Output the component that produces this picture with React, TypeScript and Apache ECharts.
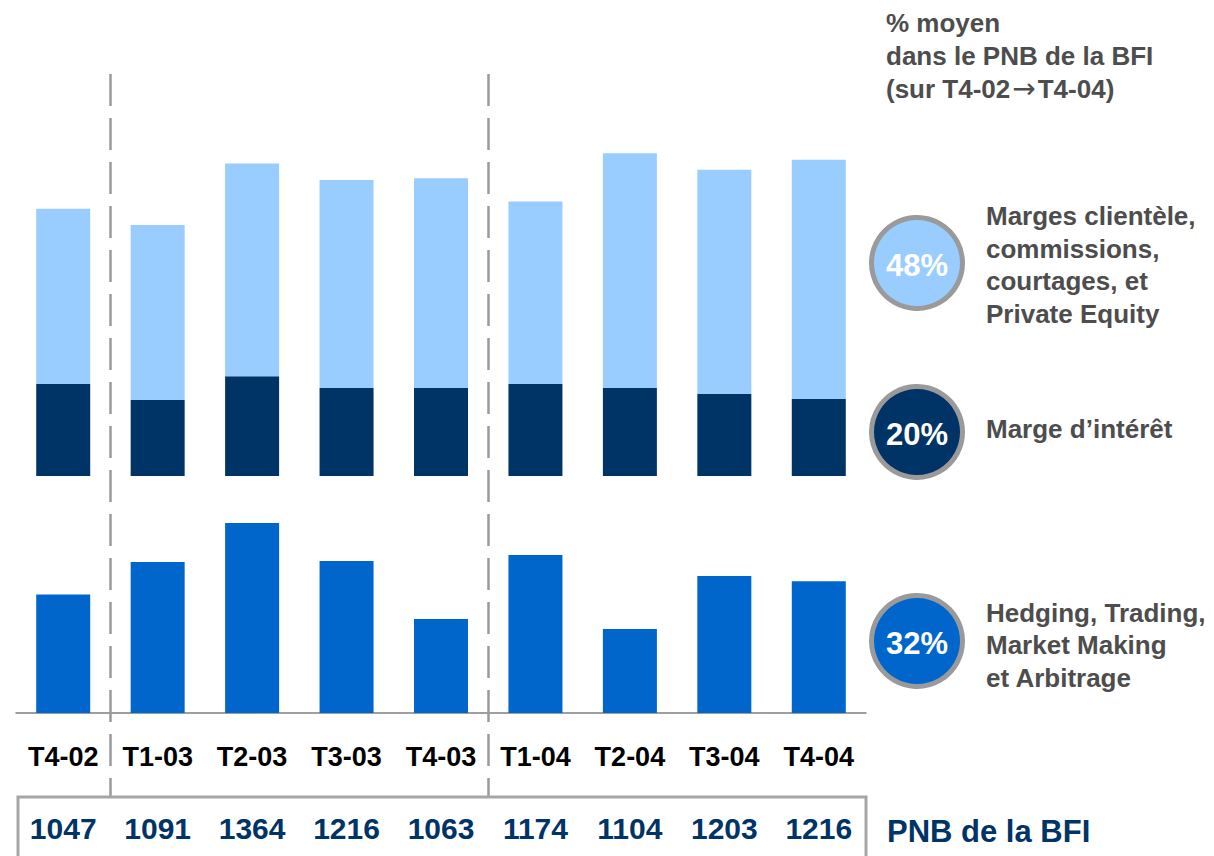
import React, { useEffect, useRef } from "react";
import * as echarts from "echarts";

const categories = ["T4-02", "T1-03", "T2-03", "T3-03", "T4-03", "T1-04", "T2-04", "T3-04", "T4-04"];
const margeInteret = [250, 206, 271, 239, 239, 250, 239, 223, 209];
const margesClientele = [475, 475, 577, 564, 569, 495, 637, 608, 649];
const hedgingTrading = [322, 410, 516, 413, 255, 429, 228, 372, 358];
const pnbBFI = [1047, 1091, 1364, 1216, 1063, 1174, 1104, 1203, 1216];

const shareLabels = ["48%", "20%", "32%"];
const shareNames = [
  "Marges clientèle,\ncommissions,\ncourtages, et\nPrivate Equity",
  "Marge d\u2019intérêt",
  "Hedging, Trading,\nMarket Making\net Arbitrage",
];
const titleLines = "{t|% moyen}\n{t|dans le PNB de la BFI}\n{t|(sur T4-02}{a|\u2192}{t|T4-04)}";
const pnbTitle = "PNB de la BFI";

const FONT = "'Liberation Sans', Arial, Helvetica, sans-serif";
const LIGHT = "#99ccff";
const NAVY = "#003366";
const MID = "#0066cc";
const GRAY_TXT = "#4d4d4d";

export default function App() {
  const ref = useRef<HTMLDivElement>(null);
  useEffect(() => {
    if (!ref.current) return;
    const chart = echarts.init(ref.current, null, { renderer: "svg" });
    const circleColors = [LIGHT, NAVY, MID];
    const circleY = [263, 432, 641];
    const labelY = [265, 429, 645];

    const graphics: any[] = [];
    [110.5, 488.5].forEach((x) => {
      graphics.push({
        type: "line",
        shape: { x1: x, y1: 74, x2: x, y2: 797 },
        style: { stroke: "#9a9a9a", lineWidth: 2.5, lineDash: [32, 12] },
        z: 1,
      });
    });
    graphics.push({
      type: "rect",
      shape: { x: 18, y: 797, width: 848, height: 90 },
      style: { fill: "none", stroke: "#a6a6a6", lineWidth: 3 },
      z: 2,
    });
    graphics.push({
      type: "text",
      x: 886,
      y: 6,
      style: {
        text: titleLines,
        fill: GRAY_TXT,
        rich: {
          t: {
            fontFamily: FONT,
            fontSize: 26,
            fontWeight: "bold",
            fill: GRAY_TXT,
            lineHeight: 33,
          },
          a: {
            fontFamily: "'DejaVu Sans', sans-serif",
            fontSize: 28,
            fontWeight: "normal",
            fill: GRAY_TXT,
            lineHeight: 33,
            padding: [0, 2, 0, 2],
          },
        },
      },
    });
    shareLabels.forEach((lab, i) => {
      graphics.push({
        type: "circle",
        shape: { cx: 917, cy: circleY[i], r: 45.5 },
        style: { fill: circleColors[i], stroke: "#9a9a9a", lineWidth: 5 },
      });
      graphics.push({
        type: "text",
        x: 917,
        y: circleY[i] + 2,
        style: {
          text: lab,
          font: `bold 31px ${FONT}`,
          fill: "#ffffff",
          align: "center",
          verticalAlign: "middle",
        },
      });
      graphics.push({
        type: "text",
        x: 986,
        y: labelY[i],
        style: {
          text: shareNames[i],
          font: `bold 26px ${FONT}`,
          fill: GRAY_TXT,
          lineHeight: 32.5,
          verticalAlign: "middle",
        },
      });
    });
    graphics.push({
      type: "text",
      x: 887,
      y: 831,
      style: {
        text: pnbTitle,
        font: `bold 31px ${FONT}`,
        fill: NAVY,
        verticalAlign: "middle",
      },
    });

    chart.setOption({
      animation: false,
      grid: [
        { left: 16, right: 348, top: 107.5, bottom: 380 },
        { left: 16, right: 348, top: 492, bottom: 143 },
      ],
      xAxis: [
        { type: "category", gridIndex: 0, data: categories, show: false },
        {
          type: "category",
          gridIndex: 1,
          data: categories,
          axisLine: { lineStyle: { color: "#7f7f7f", width: 1.5 } },
          axisTick: { show: false },
          axisLabel: {
            interval: 0,
            margin: 30,
            fontSize: 27,
            fontWeight: "bold",
            fontFamily: FONT,
            color: "#000000",
          },
        },
        {
          type: "category",
          gridIndex: 1,
          data: categories,
          position: "bottom",
          axisLine: { show: false },
          axisTick: { show: false },
          axisLabel: {
            interval: 0,
            margin: 100,
            fontSize: 30,
            fontWeight: "bold",
            fontFamily: FONT,
            color: NAVY,
            formatter: (_v: string, i: number) => String(pnbBFI[i]),
          },
        },
      ],
      yAxis: [
        { type: "value", gridIndex: 0, min: 0, max: 1000, show: false },
        { type: "value", gridIndex: 1, min: 0, max: 600, show: false },
      ],
      series: [
        {
          type: "bar",
          name: "Marge d'intérêt",
          xAxisIndex: 0,
          yAxisIndex: 0,
          stack: "up",
          data: margeInteret,
          barWidth: 54,
          itemStyle: { color: NAVY },
        },
        {
          type: "bar",
          name: "Marges clientèle",
          xAxisIndex: 0,
          yAxisIndex: 0,
          stack: "up",
          data: margesClientele,
          barWidth: 54,
          itemStyle: { color: LIGHT },
        },
        {
          type: "bar",
          name: "Hedging",
          xAxisIndex: 1,
          yAxisIndex: 1,
          data: hedgingTrading,
          barWidth: 54,
          itemStyle: { color: MID },
        },
      ],
      graphic: graphics,
    });
    return () => chart.dispose();
  }, []);

  return (
    <div
      ref={ref}
      style={{ position: "absolute", left: 0, top: 0, width: 1214, height: 856, background: "#ffffff" }}
    />
  );
}
